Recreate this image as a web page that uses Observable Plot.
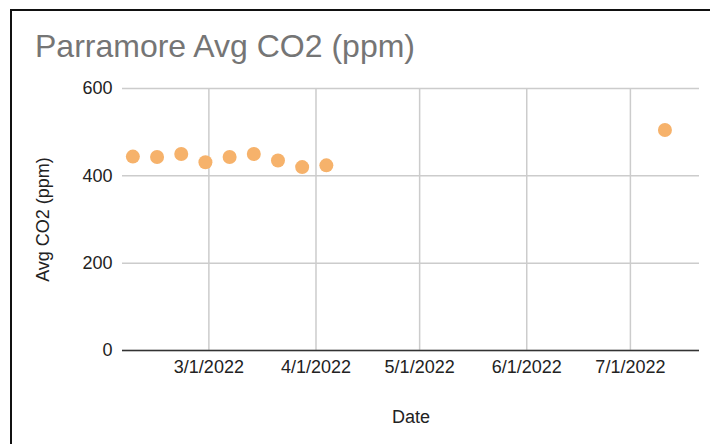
<!DOCTYPE html>
<html>
<head>
<meta charset="utf-8">
<script src="https://cdn.jsdelivr.net/npm/d3@7"></script>
<script src="https://cdn.jsdelivr.net/npm/@observablehq/plot@0.6"></script>
<style>
  html, body { margin: 0; padding: 0; background: #fff; }
  #wrap { position: relative; width: 710px; height: 444px; overflow: hidden; background: #fff; }
  #frame { position: absolute; left: 10px; top: 9px; width: 710px; height: 450px;
           border-top: 2px solid #111; border-left: 2px solid #111; box-sizing: border-box; }
  #title { position: absolute; left: 35px; top: 28px; font-family: "Liberation Sans", Arial, sans-serif;
           font-size: 32px; color: #757575; white-space: nowrap; }
  #chart { position: absolute; left: 0; top: 0; }
</style>
</head>
<body>
<div id="wrap">
  <div id="chart"></div>
  <div id="frame"></div>
  <div id="title">Parramore Avg CO2 (ppm)</div>
</div>
<script>
const dates = ["2022-02-07","2022-02-14","2022-02-21","2022-02-28","2022-03-07","2022-03-14","2022-03-21","2022-03-28","2022-04-04","2022-07-11"];
const co2 = [444, 443, 450, 431, 443, 450, 435, 420, 424, 505];
const xTicks = ["2022-03-01","2022-04-01","2022-05-01","2022-06-01","2022-07-01"];
const yTicks = [0, 200, 400, 600];
const xDomain = ["2022-02-04","2022-07-21"];

const data = dates.map((d, i) => ({date: new Date(d + "T00:00:00Z"), value: co2[i]}));
const xt = xTicks.map(d => new Date(d + "T00:00:00Z"));
const fmt = d3.utcFormat("%-m/%-d/%Y");

const chart = Plot.plot({
  width: 710,
  height: 444,
  marginTop: 88,
  marginBottom: 94,
  marginLeft: 122,
  marginRight: 11,
  style: {fontFamily: "'Liberation Sans', Arial, sans-serif", fontSize: "18px", color: "#222", background: "transparent"},
  x: {type: "utc", domain: xDomain.map(d => new Date(d + "T00:00:00Z"))},
  y: {domain: [0, 600]},
  marks: [
    Plot.gridX(xt, {stroke: "#cccccc", strokeOpacity: 1, strokeWidth: 1.5}),
    Plot.gridY(yTicks, {stroke: "#cccccc", strokeOpacity: 1, strokeWidth: 1.5}),
    Plot.ruleY([0], {stroke: "#333", strokeWidth: 1.5}),
    Plot.axisX(xt, {tickSize: 0, tickPadding: 10, tickFormat: fmt, fill: "#222",
      label: "Date", labelAnchor: "center", labelArrow: "none", labelOffset: 72}),
    Plot.axisY(yTicks, {tickSize: 0, tickPadding: 10, fill: "#222",
      label: "Avg CO2 (ppm)", labelAnchor: "center", labelArrow: "none", labelOffset: 86}),
    Plot.dot(data, {x: "date", y: "value", r: 7, fill: "#f6b26b", fillOpacity: 1, stroke: "none"})
  ]
});
document.getElementById("chart").appendChild(chart);
</script>
</body>
</html>
